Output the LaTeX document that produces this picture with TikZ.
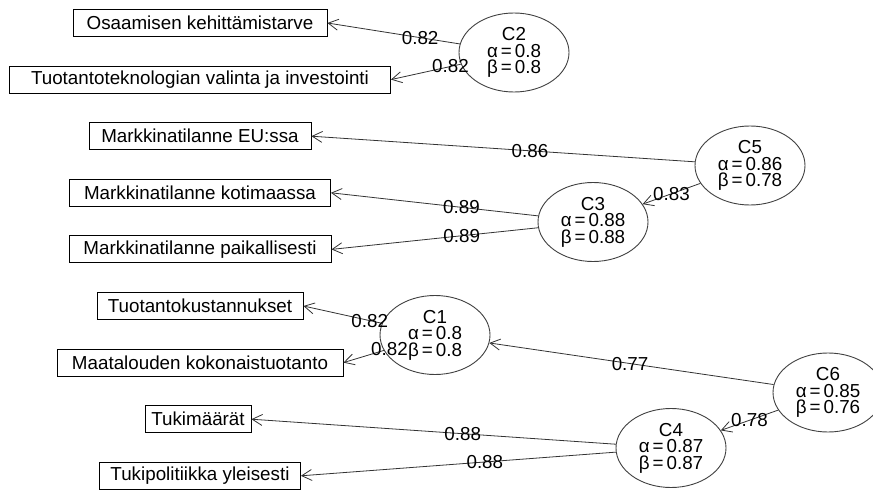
\documentclass[tikz,border=0pt]{standalone}
\usepackage{fontspec}
\setmainfont{Liberation Sans}
\usetikzlibrary{shapes.geometric,arrows.meta}
\newcommand{\fs}{\fontsize{18.8}{16.5}\selectfont}
\newcommand{\eqsp}{\hspace{0.16em}=\hspace{0.16em}}
\begin{document}
\begin{tikzpicture}[x=1pt,y=-1pt,
  itembox/.style={draw, line width=0.9pt, minimum height=27, inner sep=0pt, font=\fs},
  factor/.style={ellipse, draw=black!75, line width=0.9pt, minimum width=110, minimum height=79, inner sep=0pt, align=center, font=\fs},
  load/.style={-{Straight Barb[length=10pt,width=11pt,line width=0.8pt]}, line width=0.8pt, draw=black!80},
  lbl/.style={font=\fs, inner sep=0pt}]
\useasboundingbox (0,0) rectangle (873,492);
\clip (0,0) rectangle (873,492);
% item boxes
\node[itembox, minimum width=254] (b1) at (200,23)    {Osaamisen kehittämistarve};
\node[itembox, minimum width=381] (b2) at (200,79.6)  {Tuotantoteknologian valinta ja investointi};
\node[itembox, minimum width=222] (b3) at (200,136.2) {Markkinatilanne EU:ssa};
\node[itembox, minimum width=261] (b4) at (200,192.8) {Markkinatilanne kotimaassa};
\node[itembox, minimum width=262] (b5) at (200,249.4) {Markkinatilanne paikallisesti};
\node[itembox, minimum width=206] (b6) at (200,306)   {Tuotantokustannukset};
\node[itembox, minimum width=286] (b7) at (200,362.6) {Maatalouden kokonaistuotanto};
\node[itembox, minimum width=106] (b8) at (198,419.2) {Tukimäärät};
\node[itembox, minimum width=201] (b9) at (200,475.8) {Tukipolitiikka yleisesti};
% factors
\node[factor] (C2) at (514,52.5)  {C2\\α\eqsp 0.8\\β\eqsp 0.8};
\node[factor] (C5) at (750,165.5) {C5\\α\eqsp 0.86\\β\eqsp 0.78};
\node[factor] (C3) at (593,222)   {C3\\α\eqsp 0.88\\β\eqsp 0.88};
\node[factor] (C1) at (435,335)   {C1\\α\eqsp 0.8\\β\eqsp 0.8};
\node[factor] (C6) at (828,392.5) {C6\\α\eqsp 0.85\\β\eqsp 0.76};
\node[factor] (C4) at (671,448)   {C4\\α\eqsp 0.87\\β\eqsp 0.87};
% loadings
\draw[load] (C2) -- node[lbl,pos=0.30]{0.82} (b1.east);
\draw[load] (C2) -- node[lbl,pos=0.15]{0.82} (b2.east);
\draw[load] (C5) -- node[lbl,pos=0.43]{0.86} (b3.east);
\draw[load] (C5) -- node[lbl,pos=0.50]{0.83} (C3);
\draw[load] (C3) -- node[lbl,pos=0.37]{0.89} (b4.east);
\draw[load] (C3) -- node[lbl,pos=0.37]{0.89} (b5.east);
\draw[load] (C1) -- node[lbl,pos=0.156]{0.82} (b6.east);
\draw[load] (C1) -- node[lbl,pos=-0.14]{0.82} (b7.east);
\draw[load] (C6) -- node[lbl,pos=0.505]{0.77} (C1);
\draw[load] (C6) -- node[lbl,pos=0.50]{0.78} (C4);
\draw[load] (C4) -- node[lbl,pos=0.42]{0.88} (b8.east);
\draw[load] (C4) -- node[lbl,pos=0.416]{0.88} (b9.east);
\end{tikzpicture}
\end{document}
